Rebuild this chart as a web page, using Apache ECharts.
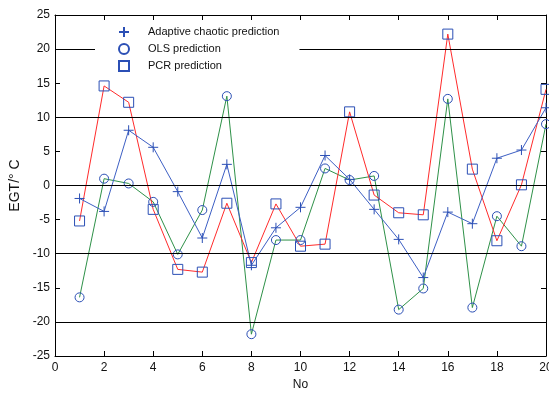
<!DOCTYPE html>
<html>
<head>
<meta charset="utf-8">
<script src="https://cdn.jsdelivr.net/npm/echarts@6/dist/echarts.min.js"></script>
<style>
  html, body { margin: 0; padding: 0; background: #fff; }
  #chart { width: 549px; height: 394px; }
</style>
</head>
<body>
<div id="chart"></div>
<script>
const sampleNo = [1, 2, 3, 4, 5, 6, 7, 8, 9, 10, 11, 12, 13, 14, 15, 16, 17, 18, 19, 20];
const adaptive = [-1.9, -3.8, 8.1, 5.6, -0.9, -7.7, 3.1, -11.7, -6.2, -3.2, 4.4, 0.9, -3.5, -7.9, -13.5, -3.9, -5.6, 4.0, 5.2, 11.4];
const ols = [-16.4, 1.0, 0.3, -2.4, -10.1, -3.6, 13.1, -21.8, -8.0, -8.0, 2.5, 0.8, 1.4, -18.2, -15.1, 12.7, -17.9, -4.5, -8.9, 9.0];
const pcr = [-5.2, 14.6, 12.2, -3.5, -12.3, -12.7, -2.6, -11.3, -2.7, -8.9, -8.6, 10.8, -1.4, -4.0, -4.3, 22.2, 2.4, -8.1, 0.1, 14.1];
const gridLevels = [20, 10, 0, -10, -20];

const markerBlue = "#2b4fb5";
const plusIcon = "path://M0,5L10,5M5,0L5,10";
const font = "Liberation Sans, Arial, sans-serif";

const chart = echarts.init(document.getElementById("chart"));

const pair = (ys) => sampleNo.map((x, i) => [x, ys[i]]);

const makeSeries = (name, ys, lineColor, symbol, size) => ({
  name,
  type: "line",
  data: pair(ys),
  symbol,
  symbolSize: size,
  showAllSymbol: true,
  clip: false,
  lineStyle: { color: lineColor, width: 1 },
  itemStyle: { color: "rgba(0,0,0,0)", borderColor: markerBlue, borderWidth: 1 },
  emphasis: { disabled: true },
  animation: false,
  z: 3
});

const axisLine = { show: true, onZero: false, lineStyle: { color: "#000", width: 1 } };
const axisTick = { show: true, inside: true, length: 5, lineStyle: { color: "#000" } };

const series = [
  makeSeries("OLS prediction", ols, "#2e9148", "circle", 9),
  makeSeries("PCR prediction", pcr, "#ff2b2b", "rect", 10),
  makeSeries("Adaptive chaotic prediction", adaptive, "#3d5fc4", plusIcon, 10),
  {
    type: "line",
    data: [],
    silent: true,
    markLine: {
      silent: true,
      symbol: "none",
      label: { show: false },
      lineStyle: { color: "#000", width: 1, type: "solid" },
      data: gridLevels.map((v) => ({ yAxis: v }))
    },
    animation: false,
    z: 1
  }
];

chart.setOption({
  backgroundColor: "#fff",
  animation: false,
  grid: { left: 55, right: 3, top: 15, bottom: 38, outerBoundsMode: "none", containLabel: false },
  legend: {
    orient: "vertical",
    left: 95,
    top: 22,
    z: 10,
    backgroundColor: "#fff",
    padding: [4, 20, 3, 23],
    itemWidth: 10,
    itemHeight: 10,
    itemGap: 5,
    selectedMode: false,
    textStyle: { fontFamily: font, fontSize: 11, lineHeight: 11, color: "#111", padding: [0, 0, 0, 14] },
    data: [
      { name: "Adaptive chaotic prediction", icon: plusIcon },
      { name: "OLS prediction", icon: "circle" },
      { name: "PCR prediction", icon: "rect" }
    ]
  },
  xAxis: [
    {
      type: "value",
      min: 0,
      max: 20,
      interval: 2,
      name: "No",
      nameLocation: "middle",
      nameGap: 22,
      nameTextStyle: { fontFamily: font, fontSize: 12, color: "#111" },
      axisLine,
      axisTick,
      axisLabel: { fontFamily: font, fontSize: 12, color: "#111", margin: 6 },
      splitLine: { show: false }
    },
    {
      type: "value",
      position: "top",
      min: 0,
      max: 20,
      interval: 2,
      axisLine,
      axisTick,
      axisLabel: { show: false },
      splitLine: { show: false }
    }
  ],
  yAxis: [
    {
      type: "value",
      min: -25,
      max: 25,
      interval: 5,
      name: "EGT/° C",
      nameLocation: "middle",
      nameGap: 32,
      nameTextStyle: { fontFamily: font, fontSize: 14, color: "#111" },
      axisLine,
      axisTick,
      axisLabel: { fontFamily: font, fontSize: 12, color: "#111", margin: 5 },
      splitLine: { show: false }
    },
    {
      type: "value",
      position: "right",
      min: -25,
      max: 25,
      interval: 5,
      axisLine,
      axisTick,
      axisLabel: { show: false },
      splitLine: { show: false }
    }
  ],
  series
});
</script>
</body>
</html>
